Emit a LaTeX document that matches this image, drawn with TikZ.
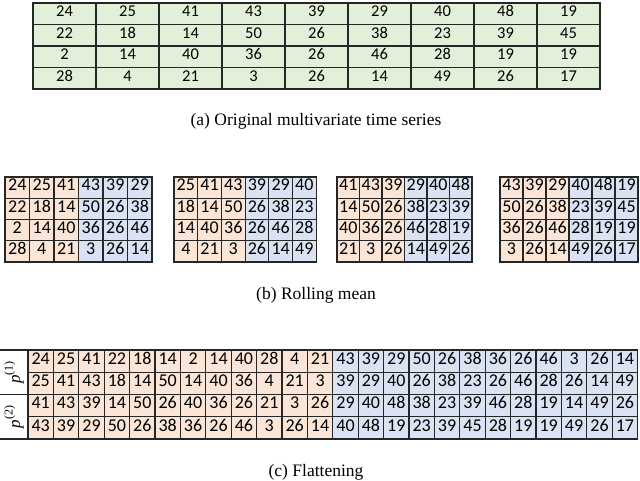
\documentclass[tikz,border=0pt]{standalone}
\usepackage{fontspec}
\setmainfont{Liberation Serif}
\newfontfamily\cellfont{Carlito}
\definecolor{cgreen}{HTML}{E2F0D9}
\definecolor{corange}{HTML}{FBE5D6}
\definecolor{cblue}{HTML}{DAE3F3}
\tikzset{
  cell/.style={draw=black!85, line width=1.1pt, inner sep=0pt, outer sep=0pt, anchor=north west, text height=0.64em, text depth=0pt},
  topcell/.style={cell, fill=cgreen, minimum width=63pt, minimum height=21.5pt, font=\cellfont\fontsize{16.5}{16.5}\selectfont},
  gridcell/.style={cell, minimum height=21.25pt, font=\cellfont\fontsize{18}{18}\selectfont},
  flatcell/.style={cell, minimum width=25.4pt, minimum height=22.25pt, font=\cellfont\fontsize{18}{18}\selectfont},
  caption/.style={font=\fontsize{17.5}{17.5}\selectfont, inner sep=0pt},
  plabel/.style={rotate=90, font=\fontsize{17}{17}\selectfont, inner sep=0pt}
}
\newcommand\rollgrid[4]{%
  \foreach \row [count=\r] in {#4} {
    \foreach \v [count=\c] in \row {
      \ifnum\c<4 \def\fc{corange}\else\def\fc{cblue}\fi
      \node[gridcell, fill=\fc, minimum width=#3 pt] (#1-\r-\c) at ({#2+(\c-1)*#3},{177+(\r-1)*21.25}) {\v};
    }
  }
}
\begin{document}
\begin{tikzpicture}[x=1pt,y=-1pt]
\useasboundingbox (0,0) rectangle (640,480);
% (a) original table
\foreach \row [count=\r] in {{24,25,41,43,39,29,40,48,19},{22,18,14,50,26,38,23,39,45},{2,14,40,36,26,46,28,19,19},{28,4,21,3,26,14,49,26,17}} {
  \foreach \v [count=\c] in \row {
    \node[topcell] (a-\r-\c) at ({33+(\c-1)*63},{3+(\r-1)*21.5}) {\v};
  }
}
\node[caption] (capa) at (316,121) {(a) Original multivariate time series};
% (b) rolling windows
\rollgrid{b1}{5}{24.5}{{24,25,41,43,39,29},{22,18,14,50,26,38},{2,14,40,36,26,46},{28,4,21,3,26,14}}
\rollgrid{b2}{174}{23.7}{{25,41,43,39,29,40},{18,14,50,26,38,23},{14,40,36,26,46,28},{4,21,3,26,14,49}}
\rollgrid{b3}{337}{22.5}{{41,43,39,29,40,48},{14,50,26,38,23,39},{40,36,26,46,28,19},{21,3,26,14,49,26}}
\rollgrid{b4}{500}{23}{{43,39,29,40,48,19},{50,26,38,23,39,45},{36,26,46,28,19,19},{3,26,14,49,26,17}}
\node[caption] (capb) at (316,295) {(b) Rolling mean};
% (c) flattening
\foreach \row [count=\r] in {
 {24,25,41,22,18,14,2,14,40,28,4,21,43,39,29,50,26,38,36,26,46,3,26,14},
 {25,41,43,18,14,50,14,40,36,4,21,3,39,29,40,26,38,23,26,46,28,26,14,49},
 {41,43,39,14,50,26,40,36,26,21,3,26,29,40,48,38,23,39,46,28,19,14,49,26},
 {43,39,29,50,26,38,36,26,46,3,26,14,40,48,19,23,39,45,28,19,19,49,26,17}} {
  \foreach \v [count=\c] in \row {
    \ifnum\c<13 \def\fc{corange}\else\def\fc{cblue}\fi
    \node[flatcell, fill=\fc] (c-\r-\c) at ({28+(\c-1)*25.4},{350+(\r-1)*22.25}) {\v};
  }
}
\coordinate (l0) at (0,350);
\coordinate (l1) at (0,394.5);
\coordinate (l2) at (0,439);
\draw[draw=black!85, line width=1.1pt] (l0) -- (c-1-1.north west);
\draw[draw=black!85, line width=1.1pt] (l1) -- (c-3-1.north west);
\draw[draw=black!85, line width=1.1pt] (l2) -- (c-4-1.south west);
\node[plabel] (p1) at (14,372.25) {\textit{p}\raisebox{0.45em}{\fontsize{12}{12}\selectfont(1)}};
\node[plabel] (p2) at (14,416.75) {\textit{p}\raisebox{0.45em}{\fontsize{12}{12}\selectfont(2)}};
\node[caption] (capc) at (316,472) {(c) Flattening};
\end{tikzpicture}
\end{document}
